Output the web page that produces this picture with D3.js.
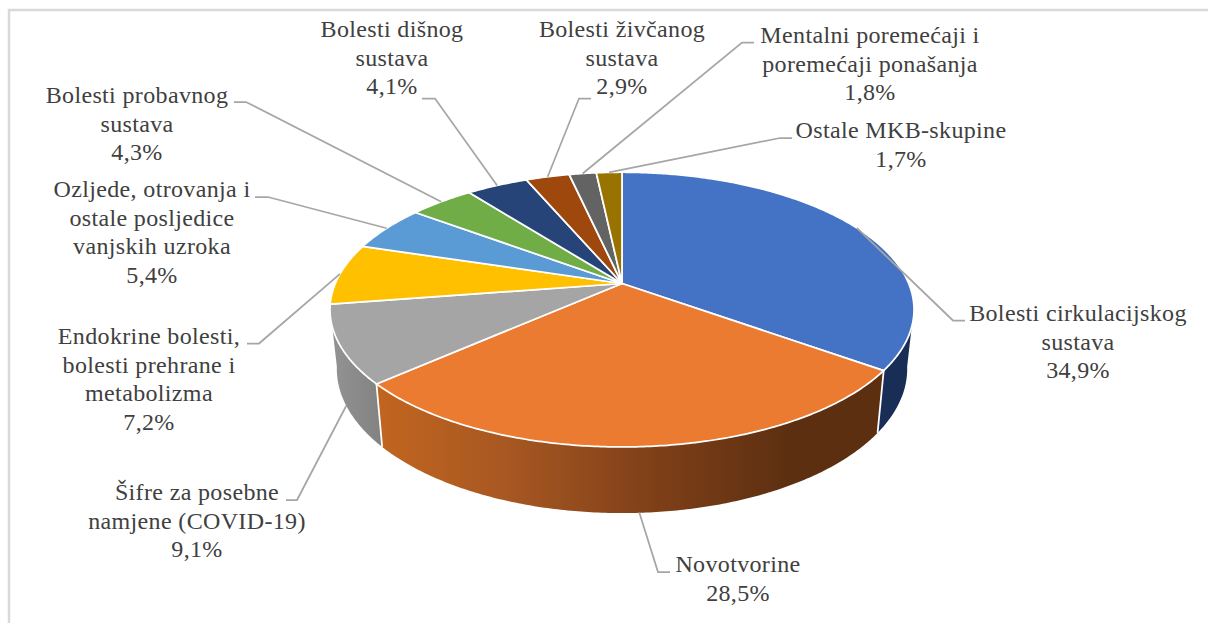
<!DOCTYPE html>
<html>
<head>
<meta charset="utf-8">
<script src="https://cdn.jsdelivr.net/npm/d3@7"></script>
<style>
html, body { margin: 0; padding: 0; background: #fff; }
svg { display: block; }
text { font-family: "Liberation Serif", serif; font-size: 24px; fill: #404040; text-anchor: middle; letter-spacing: 0.35px; }
</style>
</head>
<body>
<div id="grafico"></div>
<script>
// dados
var categorias = [
  "Bolesti cirkulacijskog sustava", "Novotvorine", "Šifre za posebne namjene (COVID-19)",
  "Endokrine bolesti, bolesti prehrane i metabolizma", "Ozljede, otrovanja i ostale posljedice vanjskih uzroka",
  "Bolesti probavnog sustava", "Bolesti dišnog sustava", "Bolesti živčanog sustava",
  "Mentalni poremećaji i poremećaji ponašanja", "Ostale MKB-skupine"
];
var valores = [34.9, 28.5, 9.1, 7.2, 5.4, 4.3, 4.1, 2.9, 1.8, 1.7];
var linhasRotulo = [
  ["Bolesti cirkulacijskog", "sustava"], ["Novotvorine"], ["Šifre za posebne", "namjene (COVID-19)"],
  ["Endokrine bolesti,", "bolesti prehrane i", "metabolizma"], ["Ozljede, otrovanja i", "ostale posljedice", "vanjskih uzroka"],
  ["Bolesti probavnog", "sustava"], ["Bolesti dišnog", "sustava"], ["Bolesti živčanog", "sustava"],
  ["Mentalni poremećaji i", "poremećaji ponašanja"], ["Ostale MKB-skupine"]
];
var cores = ["#4472C4", "#EB7B30", "#A5A5A5", "#FFC000", "#5B9BD5", "#70AD47", "#264478", "#9E480E", "#636363", "#997300"];

// posicao dos rotulos: centro, primeira linha de base, cotovelo da linha guia
var layout = [
  {x: 1078, y: 321, ex0: 965, ex1: 953, ey: 320.5, base: false},
  {x: 738,  y: 572, ex0: 670, ex1: 658, ey: 572, base: true},
  {x: 197,  y: 500, ex0: 286, ex1: 297, ey: 500, base: true},
  {x: 149,  y: 344, ex0: 247, ex1: 259, ey: 343.5, base: false},
  {x: 152,  y: 197, ex0: 255, ex1: 268, ey: 197, base: false},
  {x: 137,  y: 103, ex0: 234, ex1: 246, ey: 102, base: false},
  {x: 392,  y: 37,  ex0: 422, ex1: 435, ey: 98.5, base: false},
  {x: 622,  y: 37,  ex0: 591, ex1: 579, ey: 98.5, base: false},
  {x: 870,  y: 43,  ex0: 754, ex1: 742, ey: 42.5, base: false},
  {x: 901,  y: 138, ex0: 792, ex1: 780, ey: 138, base: false}
];

var width = 1208,
    height = 623,
    alturaLinha = 28.6;

var svg = d3.select("#grafico").append("svg")
    .attr("width", width)
    .attr("height", height);

// moldura
svg.append("path")
    .attr("d", "M9,623V10H1208")
    .attr("fill", "none")
    .attr("stroke", "#d9d9d9")
    .attr("stroke-width", 2.5);

// projecao em perspectiva do circulo: topo e base da pizza 3D
var topo = {cx: 622, cy: 283.5, a: 132.4, b: 286.7, k: 0.19};
var base = {cx: 622, cy: 341.5, a: 139, b: 280, k: 0.19};

function projeta(t, p) {
  var x = Math.sin(t), y = -Math.cos(t), d = 1 - p.k * y;
  return [p.cx + p.b * x / d, p.cy + p.a * y / d];
}

function arco(t0, t1, p) {
  var n = Math.max(2, Math.ceil(Math.abs(t1 - t0) / 0.01));
  return d3.range(n + 1).map(function(i) {
    return projeta(t0 + (t1 - t0) * i / n, p);
  });
}

var linha = d3.line();

var fatias = d3.pie().sort(null).value(function(d) { return d; })(valores);

var defs = svg.append("defs");
var grad = defs.append("linearGradient")
    .attr("id", "paredeLaranja")
    .attr("gradientUnits", "userSpaceOnUse")
    .attr("x1", 378).attr("x2", 883).attr("y1", 0).attr("y2", 0);
[[0, "#C1651F"], [0.25, "#A85822"], [0.55, "#7E3F18"], [0.82, "#5C2F11"], [1, "#5C2F11"]].forEach(function(s) {
  grad.append("stop").attr("offset", s[0]).attr("stop-color", s[1]);
});
var gradCinza = defs.append("linearGradient")
    .attr("id", "paredeCinza")
    .attr("gradientUnits", "userSpaceOnUse")
    .attr("x1", 332).attr("x2", 384).attr("y1", 0).attr("y2", 0);
gradCinza.append("stop").attr("offset", 0).attr("stop-color", "#939393");
gradCinza.append("stop").attr("offset", 1).attr("stop-color", "#818181");

// paredes visiveis: so as tres fatias da frente
var rad = Math.PI / 180;
var paredes = [
  {i: 0, t0: 100 * rad, t1: fatias[0].endAngle, fill: "#182E56"},
  {i: 1, t0: fatias[1].startAngle, t1: fatias[1].endAngle, fill: "url(#paredeLaranja)"},
  {i: 2, t0: fatias[2].startAngle, t1: 260 * rad, fill: "url(#paredeCinza)"}
];

svg.append("g").selectAll("path")
    .data(paredes)
  .enter().append("path")
    .attr("d", function(d) {
      var pts = arco(d.t0, d.t1, topo).concat(arco(d.t1, d.t0, base));
      return linha(pts) + "Z";
    })
    .attr("fill", function(d) { return d.fill; });

// separadores brancos das paredes
svg.append("g").selectAll("line")
    .data([fatias[1].startAngle, fatias[2].startAngle])
  .enter().append("line")
    .attr("x1", function(t) { return projeta(t, topo)[0]; })
    .attr("y1", function(t) { return projeta(t, topo)[1]; })
    .attr("x2", function(t) { return projeta(t, base)[0]; })
    .attr("y2", function(t) { return projeta(t, base)[1]; })
    .attr("stroke", "#fff")
    .attr("stroke-width", 1.75);

// fatias de cima
svg.append("g").selectAll("path")
    .data(fatias)
  .enter().append("path")
    .attr("d", function(d) {
      var pts = [[topo.cx, topo.cy]].concat(arco(d.startAngle, d.endAngle, topo));
      return linha(pts) + "Z";
    })
    .attr("fill", function(d, i) { return cores[i]; })
    .attr("stroke", "#fff")
    .attr("stroke-width", 1.75)
    .attr("stroke-linejoin", "round");

// linhas guia
svg.append("g").selectAll("path")
    .data(fatias)
  .enter().append("path")
    .attr("d", function(d, i) {
      var l = layout[i];
      var inicio = projeta((d.startAngle + d.endAngle) / 2, l.base ? base : topo);
      return linha([[l.ex0, l.ey], [l.ex1, l.ey], inicio]);
    })
    .attr("fill", "none")
    .attr("stroke", "#a6a6a6")
    .attr("stroke-width", 1.75);

// rotulos
var rotulos = svg.append("g").selectAll("text")
    .data(fatias)
  .enter().append("text")
    .attr("y", function(d, i) { return layout[i].y; });

rotulos.each(function(d, i) {
  var el = d3.select(this);
  linhasRotulo[i].concat([d3.format(".1f")(valores[i]).replace(".", ",") + "%"]).forEach(function(t, j) {
    el.append("tspan")
      .attr("x", layout[i].x)
      .attr("y", layout[i].y + j * alturaLinha)
      .text(t);
  });
});
</script>
</body>
</html>
